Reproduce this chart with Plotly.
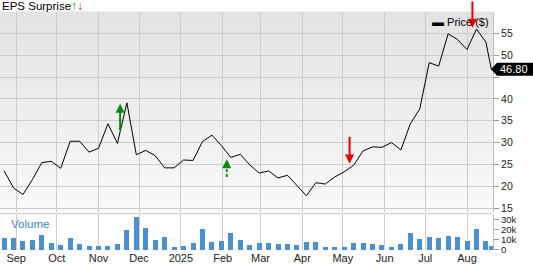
import pandas as pd
import plotly.graph_objects as go

# ---------------- data ----------------
week_dates = list(pd.date_range("2024-08-23", periods=52, freq="7D").strftime("%Y-%m-%d")) + ["2025-08-19"]
price = [23.55, 19.6, 18.1, 21.5, 25.4, 25.7, 24.1, 30.3, 30.3, 27.8, 28.7, 34.3, 29.8,
         39.1, 27.2, 28.2, 27.0, 24.2, 24.2, 26.0, 25.9, 30.2, 31.7, 29.3, 26.6, 27.3,
         24.9, 23.0, 23.5, 21.9, 22.5, 20.2, 17.8, 20.8, 20.5, 22.1, 23.3, 24.8, 28.1,
         29.0, 28.9, 30.0, 28.3, 34.3, 37.7, 48.3, 47.5, 54.9, 53.6, 51.3, 56.0, 53.0, 46.80]
volume = [12.2, 11.9, 9.5, 10.2, 14.9, 7.1, 5.1, 12.2, 6.8, 4.7, 4.7, 4.7, 6.1, 20.0,
          33.2, 22.4, 10.8, 12.9, 3.7, 4.4, 7.5, 21.0, 8.5, 9.2, 17.0, 10.2, 5.4, 7.8,
          7.8, 6.8, 6.1, 5.4, 8.8, 8.8, 3.4, 3.7, 3.7, 7.1, 7.1, 6.8, 5.8, 3.7, 6.4,
          17.6, 11.5, 12.9, 12.5, 14.6, 12.9, 9.5, 21.0, 9.2, 4.0]
volume = [v * 1000 for v in volume]

month_ticks = ["2024-09-01", "2024-10-01", "2024-11-01", "2024-12-01", "2025-01-01", "2025-02-01",
               "2025-03-01", "2025-04-01", "2025-05-01", "2025-06-01", "2025-07-01", "2025-08-01"]
month_labels = ["Sep", "Oct", "Nov", "Dec", "2025", "Feb", "Mar", "Apr", "May", "Jun", "Jul", "Aug"]
price_ticks = [15, 20, 25, 30, 35, 40, 45, 50, 55]
price_labels = ["15", "20", "25", "30", "35", "40", "", "50", "55"]  # 45 hidden behind last-price box
vol_ticks = [0, 10000, 20000, 30000]
vol_labels = ["0", "10k", "20k", "30k"]

# EPS surprise events: date, direction, tip price, tail price, dashed
eps_dates = ["2024-11-17", "2025-02-04", "2025-05-06", "2025-08-05"]
eps_dir = ["up", "up", "down", "down"]
eps_tip = [38.9, 26.2, 25.2, 56.3]
eps_tail = [32.5, 22.1, 31.6, 62.6]
eps_dash = [False, True, False, False]

last_price = price[-1]

# ---------------- figure ----------------
GREEN = "#0a8a0a"
RED = "#f00000"
BLUE = "#4a90d0"
GRID = "#cccccc"
FONT = "Liberation Sans, Arial, sans-serif"
PX_PER_UNIT = 4.42

P_DOM = [0.158, 1.0]
V_DOM = [0.0, 0.149]

fig = go.Figure()
fig.add_trace(go.Scatter(x=week_dates, y=price, mode="lines",
                         line=dict(color="black", width=1), xaxis="x", yaxis="y",
                         showlegend=False, hoverinfo="skip"))
fig.add_trace(go.Bar(x=week_dates, y=volume, marker=dict(color=BLUE, line=dict(width=0)),
                     width=3.7 * 86400000, xaxis="x", yaxis="y2", showlegend=False,
                     hoverinfo="skip"))

shapes = []
# gradient background for price pane
n = 40
for i in range(n):
    f0 = i / n
    f1 = (i + 1) / n
    c = int(250 - (250 - 227) * (f0 + f1) / 2)
    shapes.append(dict(type="rect", xref="paper", yref="paper", x0=0, x1=1,
                       y0=P_DOM[0] + (P_DOM[1] - P_DOM[0]) * f0,
                       y1=P_DOM[0] + (P_DOM[1] - P_DOM[0]) * f1 + 0.002,
                       fillcolor=f"rgb({c},{c},{c})", line=dict(width=0), layer="below"))
# separator band between panes
shapes.append(dict(type="rect", xref="paper", yref="paper", x0=0, x1=1,
                   y0=V_DOM[1], y1=P_DOM[0], fillcolor="#dcdcdc", line=dict(width=0), layer="below"))

annotations = []
for d, dr, tip, tail, dash in zip(eps_dates, eps_dir, eps_tip, eps_tail, eps_dash):
    col = GREEN if dr == "up" else RED
    if dash:
        sgn = -1 if dr == "up" else 1
        shapes.append(dict(type="line", xref="x", yref="y", x0=d, x1=d, y0=tail,
                           y1=tip + sgn * 1.0,
                           line=dict(color=col, width=2, dash="3px,2px")))
        annotations.append(dict(x=d, y=tip, xref="x", yref="y", ax=0, ay=-sgn * 5, text="",
                                showarrow=True, arrowhead=2, arrowsize=0.9, arrowwidth=2,
                                arrowcolor=col))
    else:
        ay_px = (tip - tail) * PX_PER_UNIT
        annotations.append(dict(x=d, y=tip, xref="x", yref="y", ax=0, ay=ay_px, text="",
                                showarrow=True, arrowhead=2, arrowsize=0.9, arrowwidth=2,
                                arrowcolor=col))

# title
annotations.append(dict(xref="paper", yref="paper", x=0, y=1.0 + 6 / 241, xanchor="left",
                        yanchor="middle", showarrow=False,
                        text="EPS Surprise<span style='color:%s;font-size:12px'><b>↑</b></span><span style='color:%s;font-size:12px'><b>↓</b></span>" % (GREEN, RED),
                        font=dict(family=FONT, size=11.5, color="black")))
# legend-like label
annotations.append(dict(xref="paper", yref="paper", x=430 / 493, y=1 - 10 / 241, xanchor="left",
                        yanchor="middle", showarrow=False,
                        text="<span style='font-size:12px'>▬</span> Price ($)",
                        font=dict(family=FONT, size=11, color="black")))
# volume label
annotations.append(dict(xref="paper", yref="paper", x=9 / 493, y=(253 - 227) / 241, xanchor="left",
                        yanchor="middle", showarrow=False, text="Volume",
                        font=dict(family=FONT, size=11.5, color="#3a86cc")))
# last price marker
shapes.append(dict(type="path", xref="paper", yref="y",
                   path="M %f %f L %f %f L %f %f L %f %f L %f %f Z" % (
                       491 / 493, last_price,
                       497 / 493, last_price + 1.5,
                       540 / 493, last_price + 1.5,
                       540 / 493, last_price - 1.5,
                       497 / 493, last_price - 1.5),
                   fillcolor="black", line=dict(width=0), layer="above"))
annotations.append(dict(xref="paper", yref="y", x=498 / 493, y=last_price, xanchor="left",
                        yanchor="middle", showarrow=False, text="%.2f" % last_price,
                        font=dict(family=FONT, size=11, color="white")))

fig.update_layout(
    width=533, height=264,
    margin=dict(l=0, r=40, t=12, b=11),
    paper_bgcolor="white", plot_bgcolor="white",
    showlegend=False,
    bargap=0,
    xaxis=dict(type="date", range=["2024-08-20", "2025-08-20 06:00"], anchor="y2",
               tickvals=month_ticks, ticktext=month_labels, showgrid=True, gridcolor=GRID,
               gridwidth=1, ticks="", tickfont=dict(family=FONT, size=11, color="#222"),
               showline=False, zeroline=False, ticklabelstandoff=0),
    yaxis=dict(domain=P_DOM, range=[14.0, 59.9], side="right", tickvals=price_ticks,
               ticktext=price_labels,
               showgrid=True, gridcolor=GRID, gridwidth=1, ticks="outside", ticklen=5,
               tickcolor="#999", showline=True, linecolor="#bbbbbb", zeroline=False,
               tickfont=dict(family=FONT, size=10.5, color="#222")),
    yaxis2=dict(domain=V_DOM, range=[0, 35000], side="right", tickvals=vol_ticks,
                ticktext=vol_labels, showgrid=False, ticks="outside", ticklen=5,
                tickcolor="#999", showline=True, linecolor="#bbbbbb", zeroline=False,
                tickfont=dict(family=FONT, size=9.5, color="#222")),
    shapes=shapes,
    annotations=annotations,
)

fig.write_html("out.html")
